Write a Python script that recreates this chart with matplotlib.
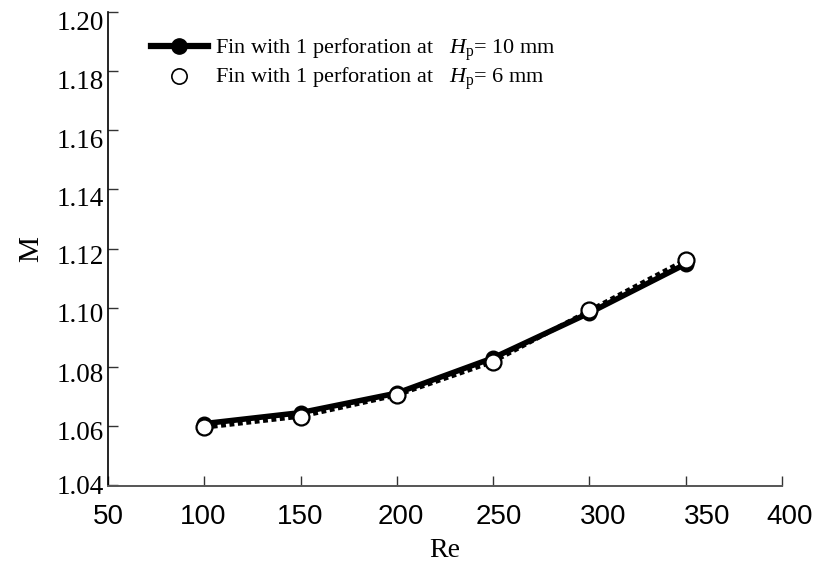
import matplotlib
matplotlib.use("Agg")
import matplotlib.pyplot as plt
from matplotlib.lines import Line2D
from matplotlib.transforms import ScaledTranslation

# ── data ────────────────────────────────────────────────────────────────
re_vals = [100, 150, 200, 250, 300, 350]
m_hp10 = [1.0609, 1.0646, 1.0712, 1.0831, 1.0983, 1.1148]
m_hp6 = [1.0596, 1.0633, 1.0705, 1.0818, 1.0991, 1.1162]

x_ticks = [50, 100, 150, 200, 250, 300, 350, 400]
y_ticks = [1.04, 1.06, 1.08, 1.10, 1.12, 1.14, 1.16, 1.18, 1.20]

label_10 = r"Fin with 1 perforation at   $\mathit{H}_{\mathrm{p}}$= 10 mm"
label_6 = r"Fin with 1 perforation at   $\mathit{H}_{\mathrm{p}}$= 6 mm"

# the source figure places its tick labels slightly off the ticks (pixels)
x_label_shift = [0, -1, 0, 4, 6, 14, 21, 8]
y_label_shift = [-1, 4, 5, 5, 6, 7, 8, 9, 9]

serif = "Liberation Serif"
sans = "Liberation Sans"

plt.rcParams["mathtext.fontset"] = "custom"
plt.rcParams["mathtext.rm"] = serif
plt.rcParams["mathtext.it"] = serif + ":italic"

fig = plt.figure(figsize=(8.26, 5.64), dpi=100)
ax = fig.add_axes([108 / 826, 1 - 485.5 / 564, (782 - 108) / 826, (485.5 - 11.7) / 564])

ax.plot(re_vals, m_hp10, color="black", lw=4, marker="o", ms=10.5,
        mfc="black", mec="black", zorder=3)
ax.plot(re_vals, m_hp6, color="black", lw=3.2, ls=(0, (1.1, 0.8)),
        marker="o", ms=11.5, mfc="white", mec="black", mew=1.6, zorder=4)

ax.set_xlim(50, 400)
ax.set_ylim(1.04, 1.20)
ax.set_xticks(x_ticks)
ax.set_yticks(y_ticks)
ax.set_yticklabels([f"{v:.2f}" for v in y_ticks], family=serif, fontsize=19.5)
ax.set_xticklabels([str(v) for v in x_ticks], family=sans, fontsize=20)
ax.tick_params(axis="both", direction="in", length=7, width=1, color="#333333")
ax.tick_params(axis="y", pad=3)
ax.tick_params(axis="x", pad=13)

for tick, dx in zip(ax.xaxis.get_major_ticks(), x_label_shift):
    lab = tick.label1
    lab.set_transform(lab.get_transform() + ScaledTranslation(dx / 100, 0, fig.dpi_scale_trans))
for tick, dy in zip(ax.yaxis.get_major_ticks(), y_label_shift):
    lab = tick.label1
    lab.set_transform(lab.get_transform() + ScaledTranslation(0, -dy / 100, fig.dpi_scale_trans))

for side in ("top", "right"):
    ax.spines[side].set_visible(False)
ax.spines["left"].set_linewidth(1.2)
ax.spines["bottom"].set_linewidth(1.4)
ax.spines["bottom"].set_color("#555555")

ax.set_xlabel("Re", family=serif, fontsize=20, labelpad=6)
ax.set_ylabel("M", family=serif, fontsize=21, labelpad=9)

handles = [
    Line2D([], [], color="black", lw=4.5, marker="o", ms=11, mfc="black"),
    Line2D([], [], ls="none", marker="o", ms=11, mfc="white", mec="black", mew=1.2),
]
ax.legend(handles, [label_10, label_6], loc="upper left",
          bbox_to_anchor=(0.04, 0.98), frameon=False,
          prop={"family": serif, "size": 16}, handlelength=2.6,
          handletextpad=0.3, labelspacing=0.12, borderaxespad=0.3)

fig.savefig("out.png", dpi=100)
